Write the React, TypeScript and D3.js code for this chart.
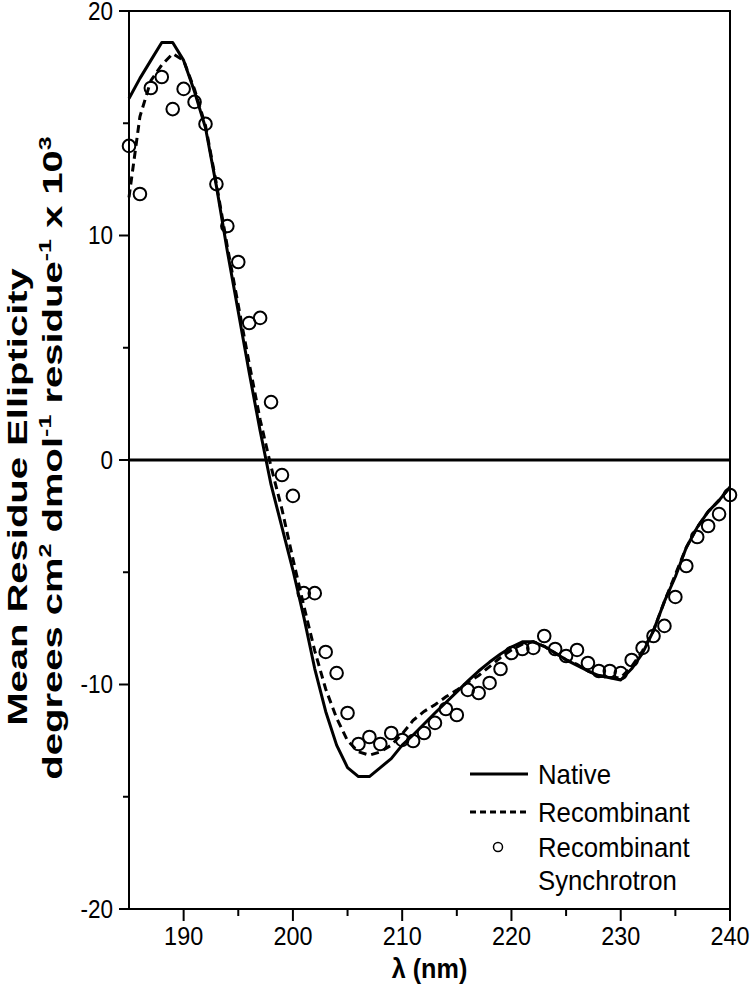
import React from "react";
import * as d3 from "d3";

const wavelengths = [185,186,187,188,189,190,191,192,193,194,195,196,197,198,199,200,201,202,203,204,205,206,207,208,209,210,211,212,213,214,215,216,217,218,219,220,221,222,223,224,225,226,227,228,229,230,231,232,233,234,235,236,237,238,239,240];

const nativeVals = [16.1,17.0,17.8,18.6,18.6,17.8,16.4,14.8,12.2,9.3,6.6,3.9,1.3,-1.1,-3.0,-4.9,-7.0,-9.3,-11.2,-12.7,-13.7,-14.1,-14.1,-13.7,-13.3,-12.7,-12.25,-11.76,-11.27,-10.8,-10.33,-9.85,-9.4,-9.0,-8.64,-8.33,-8.1,-8.1,-8.3,-8.6,-8.9,-9.15,-9.4,-9.6,-9.7,-9.8,-9.3,-8.6,-7.6,-6.3,-5.2,-3.9,-3.0,-2.3,-1.8,-1.2];

const recombinantVals = [11.7,15.3,16.9,17.6,18.1,17.8,16.5,14.9,12.3,9.5,6.9,4.3,1.8,-0.3,-2.2,-4.4,-6.5,-8.5,-10.2,-11.5,-12.5,-13.0,-13.15,-13.0,-12.7,-12.2,-11.6,-11.2,-10.9,-10.55,-10.25,-9.9,-9.6,-9.2,-8.8,-8.46,-8.2,-8.1,-8.3,-8.6,-8.9,-9.1,-9.4,-9.6,-9.7,-9.7,-9.2,-8.5,-7.6,-6.3,-5.1,-3.9,-3.0,-2.3,-1.8,-1.2];

const synchrotronVals = [13.99,11.85,16.57,17.06,15.63,16.53,15.95,14.97,12.29,10.42,8.82,6.10,6.33,2.58,-0.67,-1.60,-5.93,-5.93,-8.55,-9.49,-11.27,-12.65,-12.34,-12.65,-12.16,-12.47,-12.52,-12.16,-11.71,-11.09,-11.36,-10.24,-10.38,-9.93,-9.31,-8.60,-8.42,-8.37,-7.84,-8.42,-8.73,-8.46,-9.04,-9.40,-9.40,-9.49,-8.91,-8.37,-7.84,-7.39,-6.10,-4.72,-3.43,-2.94,-2.41,-1.56];

const xTicks = [190,200,210,220,230,240];
const xMinorTicks = [195,205,215,225,235];
const yTicks = [-20,-10,0,10,20];
const yMinorTicks = [-15,-5,5,15];
const legendLabels = ["Native", "Recombinant", "Recombinant", "Synchrotron"];

const FONT = "'Liberation Sans', Arial, sans-serif";

export default function App() {
  const W = 751, H = 989;
  const left = 129, right = 730, top = 11, bottom = 909;
  const x = d3.scaleLinear().domain([185, 240]).range([left, right]);
  const y = d3.scaleLinear().domain([-20, 20]).range([bottom, top]);

  const line = d3.line<number>()
    .x((_, i) => x(wavelengths[i]))
    .y((d) => y(d));

  const sx = 0.68;
  const tf = 40;
  const sup = 25;

  return (
    <svg width={W} height={H} style={{ position: "absolute", left: 0, top: 0, background: "#fff" }}>
      <rect x={0} y={0} width={W} height={H} fill="#fff" />
      <line x1={left} x2={right} y1={y(0)} y2={y(0)} stroke="#000" strokeWidth={3} />
      <rect x={left} y={top} width={right - left} height={bottom - top} fill="none" stroke="#000" strokeWidth={2} />
      {yTicks.map((t) => (
        <g key={"yt" + t}>
          <line x1={left - 10} x2={left} y1={y(t)} y2={y(t)} stroke="#000" strokeWidth={2} />
          <text transform={`translate(${left - 16},${y(t)}) scale(0.9,1)`} dy="0.35em" textAnchor="end" fontFamily={FONT} fontSize={25}>{t}</text>
        </g>
      ))}
      {yMinorTicks.map((t) => (
        <line key={"ym" + t} x1={left - 6} x2={left} y1={y(t)} y2={y(t)} stroke="#000" strokeWidth={2} />
      ))}
      {xTicks.map((t) => (
        <g key={"xt" + t}>
          <line x1={x(t)} x2={x(t)} y1={bottom} y2={bottom + 12} stroke="#000" strokeWidth={2} />
          <text transform={`translate(${x(t)},${bottom + 36}) scale(0.9,1)`} textAnchor="middle" fontFamily={FONT} fontSize={26}>{t}</text>
        </g>
      ))}
      {xMinorTicks.map((t) => (
        <line key={"xm" + t} x1={x(t)} x2={x(t)} y1={bottom} y2={bottom + 7} stroke="#000" strokeWidth={2} />
      ))}
      <text transform={`translate(${(left + right) / 2},978) scale(0.9,1)`} textAnchor="middle" fontFamily={FONT} fontSize={28} fontWeight="bold">λ (nm)</text>
      <text transform={`translate(17,497) scale(${sx},1) rotate(-90)`} dy="0.35em" textAnchor="middle" fontFamily={FONT} fontSize={tf} fontWeight="bold">Mean Residue Ellipticity</text>
      <text transform={`translate(52,458) scale(${sx},1) rotate(-90)`} dy="0.35em" textAnchor="middle" fontFamily={FONT} fontSize={tf} fontWeight="bold">
        degrees cm<tspan dy={-15} fontSize={sup}>2</tspan><tspan dy={15}> dmol</tspan><tspan dy={-15} fontSize={sup}>-1</tspan><tspan dy={15}> residue</tspan><tspan dy={-15} fontSize={sup}>-1</tspan><tspan dy={15}> x 10</tspan><tspan dy={-15} fontSize={sup}>3</tspan>
      </text>
      <path d={line(nativeVals) || ""} fill="none" stroke="#000" strokeWidth={3} strokeLinejoin="round" />
      <path d={line(recombinantVals) || ""} fill="none" stroke="#000" strokeWidth={3} strokeDasharray="8,5" />
      {synchrotronVals.map((v, i) => (
        <circle key={"c" + i} cx={x(wavelengths[i])} cy={y(v)} r={6.3} fill="none" stroke="#000" strokeWidth={2} />
      ))}
      <line x1={470} x2={528} y1={774} y2={774} stroke="#000" strokeWidth={3} />
      <text transform="translate(538,774) scale(0.92,1)" dy="0.35em" fontFamily={FONT} fontSize={28}>{legendLabels[0]}</text>
      <line x1={470} x2={528} y1={812} y2={812} stroke="#000" strokeWidth={3} strokeDasharray="6,4" />
      <text transform="translate(538,812) scale(0.92,1)" dy="0.35em" fontFamily={FONT} fontSize={28}>{legendLabels[1]}</text>
      <circle cx={498} cy={847} r={4.5} fill="none" stroke="#000" strokeWidth={1.5} />
      <text transform="translate(538,847) scale(0.92,1)" dy="0.35em" fontFamily={FONT} fontSize={28}>{legendLabels[2]}</text>
      <text transform="translate(538,880) scale(0.92,1)" dy="0.35em" fontFamily={FONT} fontSize={28}>{legendLabels[3]}</text>
    </svg>
  );
}
